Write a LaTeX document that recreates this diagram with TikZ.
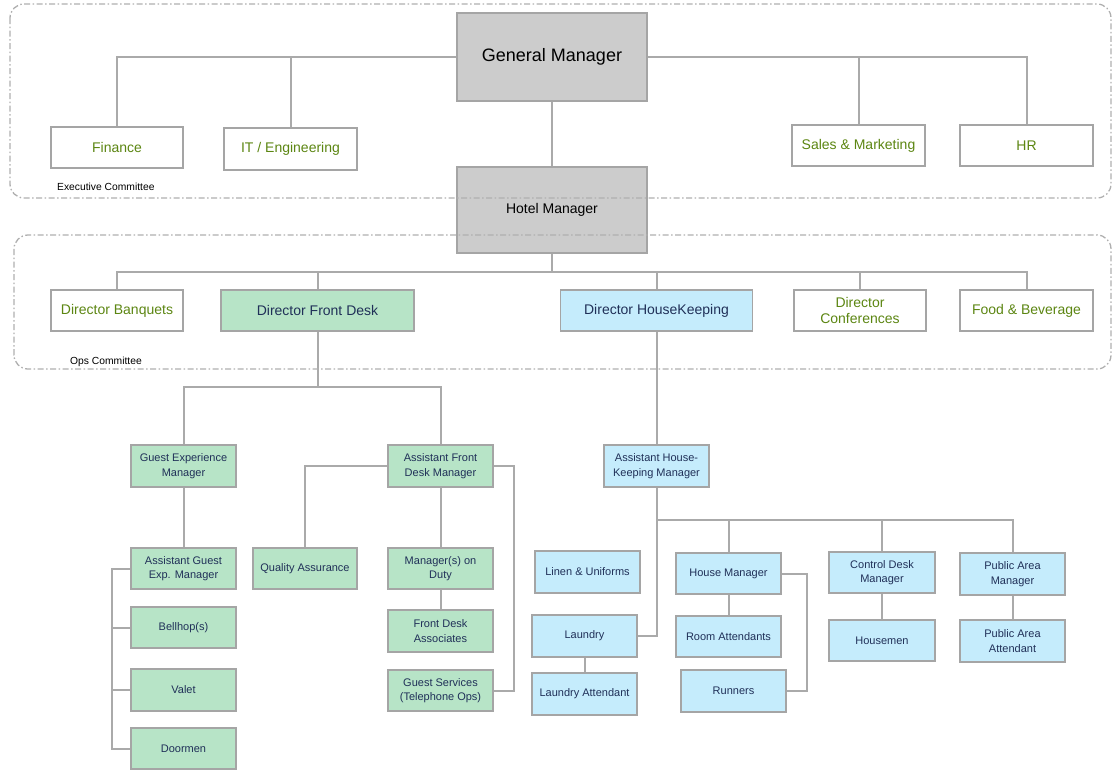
\documentclass[tikz,border=0pt]{standalone}
\usepackage{fontspec}
\setmainfont{Liberation Sans}
\definecolor{olivetxt}{RGB}{92,134,18}
\definecolor{navytxt}{RGB}{32,48,88}
\definecolor{fdgreen}{RGB}{183,228,199}
\definecolor{hkblue}{RGB}{197,236,252}
\definecolor{boxgray}{RGB}{204,204,204}
\definecolor{bordergray}{RGB}{165,165,165}
\definecolor{linegray}{RGB}{170,170,170}
\definecolor{dashgray}{RGB}{175,175,175}
\tikzset{
  sz/.style 2 args={minimum width=#1pt, minimum height=#2pt},
  bx/.style={draw=bordergray, line width=1.5pt, inner sep=2pt, align=center, anchor=center},
  topbox/.style={bx, fill=boxgray, text=black},
  wbox/.style={bx, fill=white, text=olivetxt, font=\fontsize{14}{16.5}\selectfont},
  dirg/.style={bx, fill=fdgreen, text=navytxt, font=\fontsize{14}{16.5}\selectfont},
  dirb/.style={bx, fill=hkblue, text=navytxt, font=\fontsize{14}{16.5}\selectfont},
  gbox/.style={bx, fill=fdgreen, text=navytxt, font=\fontsize{11}{14.5}\selectfont},
  bbox/.style={bx, fill=hkblue, text=navytxt, font=\fontsize{11}{14.5}\selectfont},
  conn/.style={draw=linegray, line width=2pt},
  cmte/.style={draw=dashgray, line width=1.3pt, rounded corners=14pt,
               dash pattern=on 6pt off 2.5pt on 1.5pt off 2.5pt},
  cmtelabel/.style={anchor=west, inner sep=0pt, font=\fontsize{10.3}{12}\selectfont},
}
\begin{document}
\begin{tikzpicture}[x=1pt,y=-1pt]
\useasboundingbox (0,0) rectangle (1113,771);

% ---------- executive level ----------
\node[topbox, sz={190}{88}, font=\fontsize{18}{21}\selectfont] (gm) at (552,57) {General Manager};
\node[topbox, sz={190}{86}, font=\fontsize{14}{16}\selectfont] (hm) at (552,210) {Hotel Manager};
\node[wbox, sz={132}{41}] (fin) at (117,147.5) {Finance};
\node[wbox, sz={133}{42}] (it) at (290.5,149) {IT / Engineering};
\node[wbox, sz={133}{41}] (sales) at (858.5,145.5) {Sales \& Marketing};
\node[wbox, sz={133}{41}] (hr) at (1026.5,145.5) {HR};

% ---------- ops level ----------
\node[wbox, sz={132}{41}] (ban) at (117,310.5) {Director Banquets};
\node[dirg, sz={193}{41}] (dfd) at (317.5,310.5) {Director Front Desk};
\node[dirb, sz={192}{41}] (dhk) at (656.5,310.5) {Director HouseKeeping};
\node[wbox, sz={132}{41}] (conf) at (860,310.5) {Director\\Conferences};
\node[wbox, sz={133}{41}] (fb) at (1026.5,310.5) {Food \& Beverage};

% ---------- front desk ----------
\node[gbox, sz={105}{42}] (gem) at (183.5,466) {Guest Experience\\Manager};
\node[gbox, sz={105}{42}] (afdm) at (440.5,466) {Assistant Front\\Desk Manager};
\node[gbox, sz={104}{41}] (qa) at (305,568.5) {Quality Assurance};
\node[gbox, sz={105}{41}] (mod) at (440.5,568.5) {Manager(s) on\\Duty};
\node[gbox, sz={105}{42}] (fda) at (440.5,631) {Front Desk\\Associates};
\node[gbox, sz={105}{41}] (gs) at (440.5,690.5) {Guest Services\\(Telephone Ops)};
\node[gbox, sz={105}{41}] (agem) at (183.5,568.5) {Assistant Guest\\Exp. Manager};
\node[gbox, sz={105}{41}] (bell) at (183.5,627.5) {Bellhop(s)};
\node[gbox, sz={105}{42}] (valet) at (183.5,690) {Valet};
\node[gbox, sz={105}{41}] (door) at (183.5,748.5) {Doormen};

% ---------- housekeeping ----------
\node[bbox, sz={105}{42}] (ahkm) at (656.5,466) {Assistant House-\\Keeping Manager};
\node[bbox, sz={105}{42}] (linen) at (587.5,572) {Linen \& Uniforms};
\node[bbox, sz={105}{42}] (laundry) at (584.5,636) {Laundry};
\node[bbox, sz={105}{42}] (la) at (584.5,694) {Laundry Attendant};
\node[bbox, sz={105}{41}] (hman) at (728.5,573.5) {House Manager};
\node[bbox, sz={105}{41}] (ra) at (728.5,636.5) {Room Attendants};
\node[bbox, sz={105}{42}] (run) at (733.5,691) {Runners};
\node[bbox, sz={106}{41}] (cdm) at (882,572.5) {Control Desk\\Manager};
\node[bbox, sz={106}{41}] (hmen) at (882,640.5) {Housemen};
\node[bbox, sz={105}{42}] (pam) at (1012.5,574) {Public Area\\Manager};
\node[bbox, sz={105}{42}] (paa) at (1012.5,641) {Public Area\\Attendant};

% ---------- connectors ----------
\coordinate (opsbus) at (552,272);
\coordinate (fdbus) at (318,387);
\coordinate (hkbus) at (657,520);
\coordinate (gx) at (112,0);

\draw[conn] (gm.west) -| (fin.north);
\draw[conn] (gm.west) -| (it.north);
\draw[conn] (gm.east) -| (hr.north);
\draw[conn] (gm.east) -| (sales.north);
\draw[conn] (gm.south) -- (hm.north);

\draw[conn] (hm.south) -- (hm.south |- opsbus);
\draw[conn] (ban.north) -- (ban.north |- opsbus) -- (fb.north |- opsbus) -- (fb.north);
\draw[conn] (dfd.north) -- (dfd.north |- opsbus);
\draw[conn] (dhk.north) -- (dhk.north |- opsbus);
\draw[conn] (conf.north) -- (conf.north |- opsbus);

\draw[conn] (dfd.south) -- (dfd.south |- fdbus);
\draw[conn] (gem.north) |- (afdm.north |- fdbus) -- (afdm.north);
\draw[conn] (afdm.west) -| (qa.north);
\draw[conn] (afdm.south) -- (mod.north);
\draw[conn] (mod.south) -- (fda.north);
\draw[conn] (afdm.east) -- ++(20,0) |- (gs.east);
\draw[conn] (gem.south) -- (agem.north);
\draw[conn] (agem.west) -- (agem.west -| gx) |- (door.west);
\draw[conn] (bell.west) -- (bell.west -| gx);
\draw[conn] (valet.west) -- (valet.west -| gx);

\draw[conn] (dhk.south) -- (ahkm.north);
\draw[conn] (ahkm.south) |- (laundry.east);
\draw[conn] (ahkm.south |- hkbus) -| (pam.north);
\draw[conn] (hman.north) -- (hman.north |- hkbus);
\draw[conn] (cdm.north) -- (cdm.north |- hkbus);
\draw[conn] (hman.south) -- (ra.north);
\draw[conn] (hman.east) -- ++(25,0) |- (run.east);
\draw[conn] (laundry.south) -- (la.north);
\draw[conn] (cdm.south) -- (hmen.north);
\draw[conn] (pam.south) -- (paa.north);

% ---------- committees ----------
\draw[cmte] (10,4) rectangle (1111,198);
\draw[cmte] (14,235) rectangle (1111,369);
\node[cmtelabel] (exlab) at (57,187) {Executive Committee};
\node[cmtelabel] (opslab) at (70,362) {Ops Committee};
\end{tikzpicture}
\end{document}
